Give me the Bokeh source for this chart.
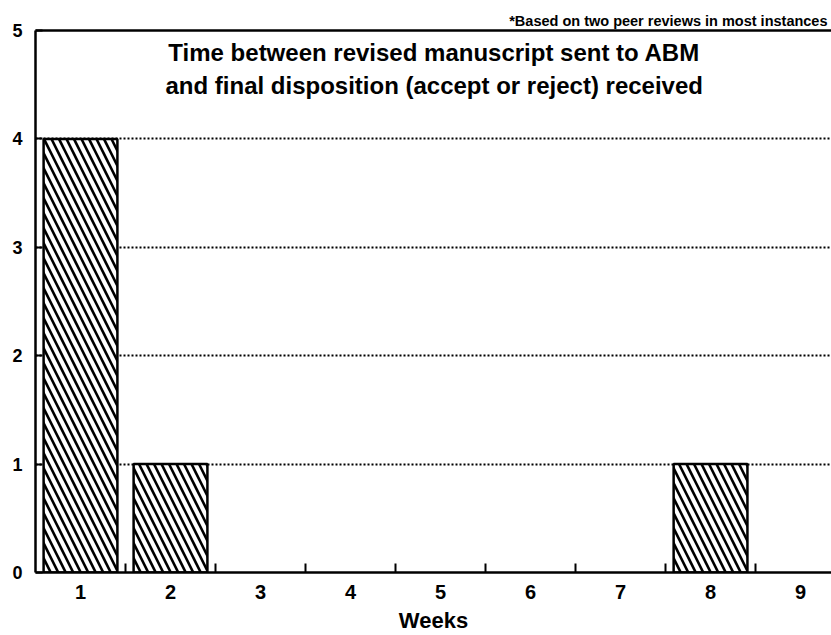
import numpy as np
from bokeh.plotting import figure
from bokeh.models import (ColumnDataSource, FixedTicker, LinearAxis, Label, Title, Range1d)
from bokeh.embed import file_html
from bokeh.resources import INLINE

weeks = [1, 2, 3, 4, 5, 6, 7, 8, 9]
counts = [4, 1, 0, 0, 0, 0, 0, 1, 0]
y_ticks = [0, 1, 2, 3, 4, 5]
title_lines = ["Time between revised manuscript sent to ABM",
               "and final disposition (accept or reject) received"]
footnote = "*Based on two peer reviews in most instances"
x_label = "Weeks"

FONT = "Liberation Sans"

p = figure(width=831, height=635, output_backend="svg", toolbar_location=None,
           x_range=Range1d(0.5, 9.344), y_range=Range1d(0, 5),
           min_border_left=35, min_border_right=0, min_border_top=30, min_border_bottom=63)
p.outline_line_color = None
p.background_fill_color = "white"

# grid
p.xgrid.grid_line_color = None
p.ygrid.ticker = FixedTicker(ticks=[1, 2, 3, 4])
p.ygrid.grid_line_color = "black"
p.ygrid.grid_line_width = 2
p.ygrid.grid_line_dash = "2 2"

# bars
src = ColumnDataSource(dict(x=[w for w, c in zip(weeks, counts) if c > 0],
                            top=[c for c in counts if c > 0]))
p.vbar(x="x", top="top", width=0.82, source=src, fill_color="white",
       line_color="black", line_width=2.5,
       hatch_pattern="left_diagonal_line", hatch_color="black",
       hatch_weight=2.6, hatch_scale=15)

# x axis
xa = p.xaxis[0]
xa.ticker = FixedTicker(ticks=weeks, minor_ticks=list(np.array(weeks[:-1]) + 0.5))
xa.major_tick_line_color = None
xa.major_tick_in = 0
xa.major_tick_out = 0
xa.minor_tick_in = 9
xa.minor_tick_out = 0
xa.minor_tick_line_width = 2
xa.minor_tick_line_color = "black"
xa.axis_line_width = 2.5
xa.axis_line_color = "black"
xa.major_label_text_font = FONT
xa.major_label_text_font_style = "bold"
xa.major_label_text_font_size = "20px"
xa.major_label_text_color = "black"
xa.major_label_standoff = 12
xa.axis_label = x_label
xa.axis_label_text_font = FONT
xa.axis_label_text_font_style = "bold"
xa.axis_label_text_font_size = "22px"
xa.axis_label_text_color = "black"
xa.axis_label_standoff = 6

# y axis
ya = p.yaxis[0]
ya.ticker = FixedTicker(ticks=y_ticks)
ya.major_tick_in = 7
ya.major_tick_out = 0
ya.major_tick_line_width = 2
ya.minor_tick_line_color = None
ya.axis_line_width = 2.5
ya.axis_line_color = "black"
ya.major_label_text_font = FONT
ya.major_label_text_font_style = "bold"
ya.major_label_text_font_size = "18px"
ya.major_label_text_color = "black"
ya.major_label_standoff = 13

# top border line
top = LinearAxis(ticker=FixedTicker(ticks=[]), axis_line_width=2.5, axis_line_color="black",
                 major_tick_out=0, major_tick_in=0, minor_tick_out=0, minor_tick_in=0,
                 major_label_standoff=0)
p.add_layout(top, "above")

# footnote
p.add_layout(Title(text=footnote, align="right", text_font=FONT, text_font_style="bold",
                   text_font_size="14.5px", text_color="black", standoff=3, offset=4), "above")

# in-plot title
for i, line in enumerate(title_lines):
    p.add_layout(Label(x=4.93, y=4.797 - i * 0.304, text=line, text_font=FONT,
                       text_font_style="bold", text_font_size="24px", text_color="black",
                       text_align="center", text_baseline="middle"))

open("out.html", "w").write(file_html(p, INLINE))
